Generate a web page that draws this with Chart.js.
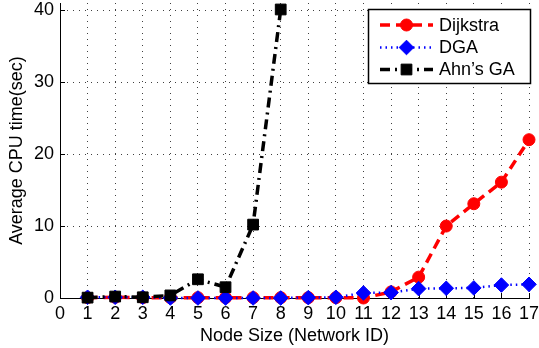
<!DOCTYPE html>
<html>
<head>
<meta charset="utf-8">
<script src="https://cdn.jsdelivr.net/npm/chart.js@4"></script>
<style>
html,body{margin:0;padding:0;background:#fff;}
#wrap{width:539px;height:348px;}
</style>
</head>
<body>
<div id="wrap"><canvas id="c" width="539" height="348"></canvas></div>
<script>
const nodeIds = [1,2,3,4,5,6,7,8,9,10,11,12,13,14,15,16,17];
const dijkstra = [0.05,0.1,0.05,0.05,0.05,0.05,0.05,0.05,0.05,0.05,0.0,0.85,2.9,10.0,13.1,16.1,22.0];
const dga = [0.1,0.1,0.1,0.0,0.0,0.0,0.0,0.0,0.05,0.1,0.7,0.75,1.3,1.35,1.4,1.8,1.9];
const ahnGA = [0.05,0.2,0.1,0.36,2.6,1.5,10.2,40.1];
const seriesNames = ['Dijkstra','DGA','Ahn\u2019s GA'];
const xTicks = [0,1,2,3,4,5,6,7,8,9,10,11,12,13,14,15,16,17];
const yTicks = [0,10,20,30,40];

const FONT = "'Liberation Sans', Arial, Helvetica, sans-serif";
const pts = (vals) => vals.map((v,i) => ({x: nodeIds[i], y: v}));

const styles = [
  {color:'#ff0000', width:3.5, dash:[10,6], point:'circle', r:6},
  {color:'#0000ff', width:2.5, dash:[1.5,4], point:'rectRot', r:7.3},
  {color:'#000000', width:3.5, dash:[10,5,2,5], point:'rect', r:7.6}
];
const seriesData = [dijkstra, dga, ahnGA];

const datasets = seriesData.map((vals, i) => ({
  label: seriesNames[i],
  data: pts(vals),
  borderColor: styles[i].color,
  backgroundColor: styles[i].color,
  borderWidth: styles[i].width,
  borderDash: styles[i].dash,
  pointStyle: styles[i].point,
  pointRadius: styles[i].r,
  pointBackgroundColor: styles[i].color,
  pointBorderColor: styles[i].color,
  pointBorderWidth: 1,
  tension: 0,
  clip: false,
  order: 2 - i
}));

const zeroPad = (s) => {
  s.paddingTop = 0; s.paddingBottom = 0; s.paddingLeft = 0; s.paddingRight = 0;
};

const extras = {
  id: 'extras',
  beforeDatasetsDraw(chart) {
    const ctx = chart.ctx, xs = chart.scales.x, ys = chart.scales.y;
    const a = chart.chartArea;
    ctx.save();
    ctx.strokeStyle = '#000';
    ctx.lineWidth = 1;
    ctx.beginPath();
    xTicks.forEach(t => {
      const px = Math.round(xs.getPixelForValue(t)) + 0.5;
      ctx.moveTo(px, a.bottom); ctx.lineTo(px, a.bottom - 5);
    });
    yTicks.forEach(t => {
      const py = Math.round(ys.getPixelForValue(t)) + 0.5;
      ctx.moveTo(a.left, py); ctx.lineTo(a.left + 5, py);
    });
    ctx.stroke();
    ctx.restore();
  },
  afterDraw(chart) {
    const ctx = chart.ctx;
    const bx = 368.5, by = 9.5, bw = 162, bh = 74;
    ctx.save();
    ctx.fillStyle = '#fff';
    ctx.fillRect(bx, by, bw, bh);
    ctx.strokeStyle = '#000';
    ctx.lineWidth = 1.5;
    ctx.strokeRect(bx, by, bw, bh);
    const rows = [25, 47.5, 69.5];
    chart.data.datasets.forEach((ds, i) => {
      const y = rows[i];
      const s = styles[i];
      ctx.save();
      ctx.strokeStyle = s.color;
      ctx.lineWidth = s.width;
      ctx.setLineDash(s.dash);
      ctx.beginPath();
      ctx.moveTo(380, y); ctx.lineTo(433, y);
      ctx.stroke();
      ctx.restore();
      ctx.save();
      ctx.fillStyle = s.color;
      ctx.strokeStyle = s.color;
      ctx.lineWidth = 1;
      Chart.helpers.drawPoint(ctx, {pointStyle: s.point, radius: s.r, rotation: 0, borderWidth: 1}, 406.5, y);
      ctx.restore();
      ctx.fillStyle = '#000';
      ctx.font = '18px ' + FONT;
      ctx.textBaseline = 'middle';
      ctx.textAlign = 'left';
      ctx.fillText(ds.label, 439, y + 1);
    });
    ctx.restore();
  }
};

new Chart(document.getElementById('c'), {
  type: 'line',
  data: { datasets },
  options: {
    responsive: false,
    animation: false,
    layout: { autoPadding: false, padding: { top: 3, right: 10, left: 0, bottom: 0 } },
    plugins: { legend: { display: false }, tooltip: { enabled: false } },
    scales: {
      x: {
        type: 'linear',
        min: 0, max: 17,
        afterFit(s) { s.height = 50; zeroPad(s); },
        afterBuildTicks(s) { s.ticks = xTicks.map(v => ({value: v})); },
        ticks: { color: '#000', font: { family: FONT, size: 18 }, padding: 5, autoSkip: false, maxRotation: 0 },
        grid: { color: 'rgba(0,0,0,0.75)', lineWidth: 1, drawTicks: false },
        border: { display: true, color: '#000', width: 1, dash: [1,5] },
        title: { display: true, text: 'Node Size (Network ID)', color: '#000', font: { family: FONT, size: 18 }, padding: { top: 0, bottom: 1 } }
      },
      y: {
        type: 'linear',
        min: 0, max: 41,
        afterFit(s) { s.width = 60; zeroPad(s); },
        afterBuildTicks(s) { s.ticks = yTicks.map(v => ({value: v})); },
        ticks: { color: '#000', font: { family: FONT, size: 18 }, padding: 6 },
        grid: { color: 'rgba(0,0,0,0.75)', lineWidth: 1, drawTicks: false },
        border: { display: true, color: '#000', width: 1, dash: [1,5] },
        title: { display: true, text: 'Average CPU time(sec)', color: '#000', font: { family: FONT, size: 18 }, padding: { top: 6, bottom: 0 } }
      }
    }
  },
  plugins: [extras]
});
</script>
</body>
</html>
